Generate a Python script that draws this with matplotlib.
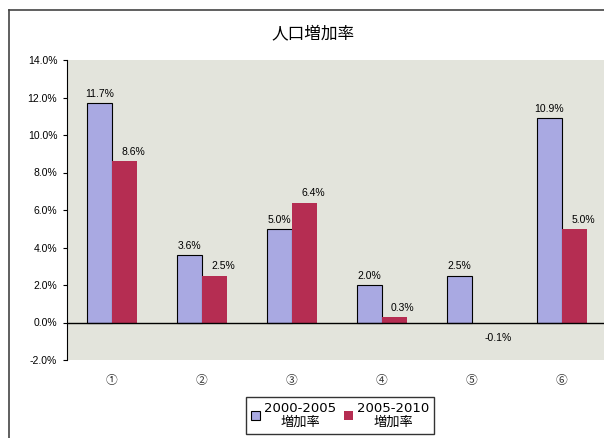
import matplotlib
matplotlib.use("Agg")
import matplotlib.pyplot as plt
import numpy as np
from matplotlib.ticker import FuncFormatter
from matplotlib.lines import Line2D

plt.rcParams['font.family'] = ['Noto Sans CJK JP', 'DejaVu Sans']

categories = ['①', '②', '③', '④', '⑤', '⑥']
rate_2000_2005 = [11.7, 3.6, 5.0, 2.0, 2.5, 10.9]
rate_2005_2010 = [8.6, 2.5, 6.4, 0.3, -0.1, 5.0]
series_names = ['2000-2005\n増加率', '2005-2010\n増加率']
title = '人口増加率'

blue = '#a9a9e2'
red = '#b52d52'
label_font = ['Liberation Sans', 'DejaVu Sans']

fig = plt.figure(figsize=(6.04, 4.38), dpi=100)
fig.patch.set_facecolor('white')

# outer chart frame
fig.add_artist(Line2D([9/604, 1.0], [1 - 10/438, 1 - 10/438], transform=fig.transFigure,
                      color='#444444', lw=1.2))
fig.add_artist(Line2D([9/604, 9/604], [0, 1 - 10/438], transform=fig.transFigure,
                      color='#444444', lw=1.2))

ax = fig.add_axes([67/604, 78/438, 540/604, 300/438])
ax.set_facecolor('#e3e4dc')

x = np.arange(len(categories))
w = 0.28
v1 = np.array(rate_2000_2005) / 100
v2 = np.array(rate_2005_2010) / 100
b1 = ax.bar(x - w/2, v1, w, color=blue, edgecolor='black', linewidth=0.8, label=series_names[0], zorder=2)
b2 = ax.bar(x + w/2, v2, w, color=red, edgecolor='none', label=series_names[1], zorder=2)

ax.axhline(0, color='black', lw=1.0, zorder=3)

for xi, v in zip(x - w/2, v1):
    ax.annotate(f'{v*100:.1f}%', (xi, v), xytext=(0, 3), textcoords='offset points',
                ha='center', va='bottom', fontsize=7.5, family=label_font)
for xi, v in zip(x + w/2, v2):
    if v >= 0:
        ax.annotate(f'{v*100:.1f}%', (xi, v), xytext=(6, 3), textcoords='offset points',
                    ha='center', va='bottom', fontsize=7.5, family=label_font)
    else:
        ax.annotate(f'{v*100:.1f}%', (xi, v), xytext=(10, -6), textcoords='offset points',
                    ha='center', va='top', fontsize=7.5, family=label_font)

ax.set_xlim(-0.5, len(categories) - 0.5)
ax.set_ylim(-0.02, 0.14)
ax.set_yticks(np.arange(-0.02, 0.141, 0.02))
ax.yaxis.set_major_formatter(FuncFormatter(lambda v, p: f'{v*100:.1f}%'))
ax.tick_params(axis='y', direction='out', length=3, width=0.8, labelsize=7.5, pad=4)
for t in ax.get_yticklabels():
    t.set_family(label_font)
ax.set_xticks(x)
ax.set_xticklabels(categories)
ax.tick_params(axis='x', length=0, labelsize=8.5, pad=10, labelcolor='#333333')

for s in ['top', 'right', 'bottom']:
    ax.spines[s].set_visible(False)
ax.spines['left'].set_color('black')
ax.spines['left'].set_linewidth(0.8)

fig.text(313/604, 1 - 34/438, title, ha='center', va='center', fontsize=12)

leg = fig.legend(handles=[b1, b2], labels=series_names, ncol=2, loc='upper center',
                 bbox_to_anchor=(340/604, 1 - 397/438), frameon=True, fancybox=False,
                 edgecolor='black', handlelength=0.7, handleheight=0.7,
                 handletextpad=0.3, columnspacing=0.6, borderpad=0.35, borderaxespad=0,
                 prop={'family': ['DejaVu Sans', 'Noto Sans CJK JP'], 'size': 9.5})
leg.get_frame().set_linewidth(1.0)
for t in leg.get_texts():
    t.set_multialignment('center')
    t.set_linespacing(1.15)

fig.savefig('out.png', dpi=100)
